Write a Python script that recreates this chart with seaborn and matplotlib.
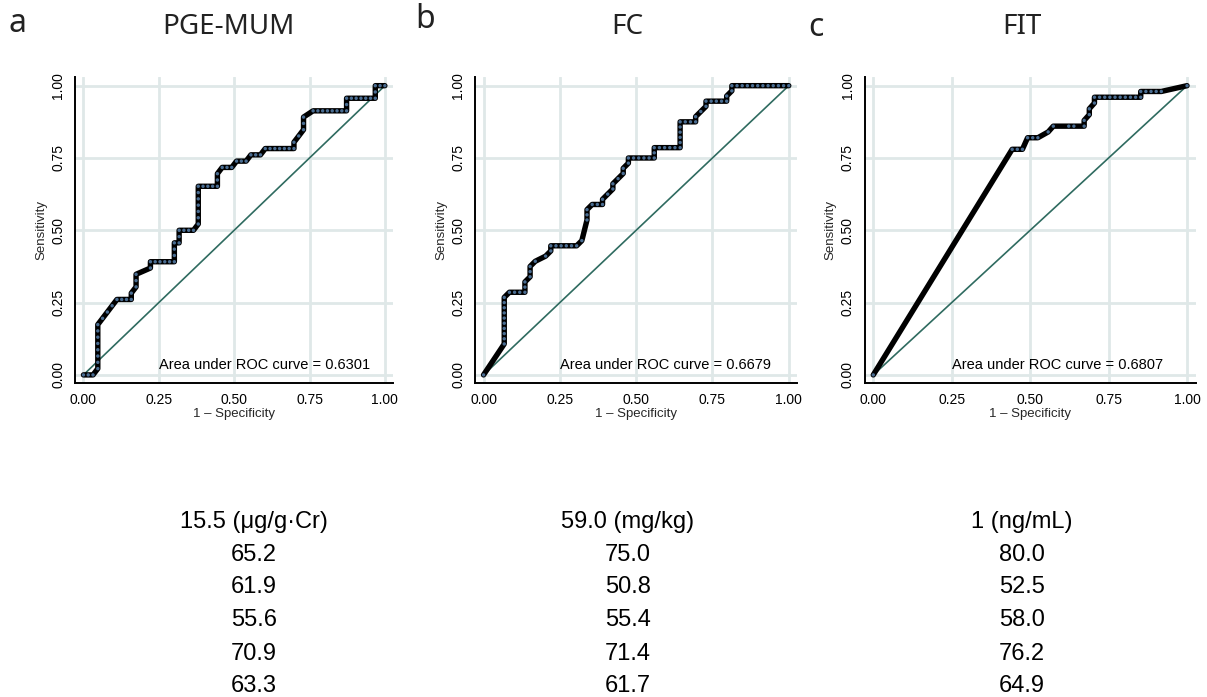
import numpy as np
import pandas as pd
import matplotlib
matplotlib.use("Agg")
import matplotlib.pyplot as plt
import seaborn as sns

# ---------------- data ----------------
panel_letters = ["a", "b", "c"]
panel_titles = ["PGE-MUM", "FC", "FIT"]
auc_values = ["0.6301", "0.6679", "0.6807"]

# ROC points as counts of false positives / true positives
n_neg_a, n_pos_a = 63, 46
fp_a = [0, 1, 2, 3, 3, 3, 3, 3, 3, 3, 3, 4, 5, 6, 7, 8, 9, 10, 10, 11, 11, 11,
        14, 14, 15, 16, 17, 18, 19, 19, 19, 19, 20, 20, 20, 21, 22, 23,
        24, 24, 24, 24, 24, 24, 24, 25, 26, 27, 28, 28, 28, 29, 30, 31,
        32, 33, 34, 35, 36, 37, 38, 39, 40, 41, 42, 43, 44, 44, 45, 46, 46, 46,
        48, 49, 50, 51, 52, 53, 54, 55, 55, 55, 56, 57, 58, 59, 60, 61, 61, 61, 62, 63]
tp_a = [0, 0, 0, 1, 2, 3, 4, 5, 6, 7, 8, 9, 10, 11, 12, 12, 12, 12, 13, 14, 15, 16,
        17, 18, 18, 18, 18, 18, 18, 19, 20, 21, 21, 22, 23, 23, 23, 23,
        24, 25, 26, 27, 28, 29, 30, 30, 30, 30, 30, 31, 32, 33, 33, 33,
        34, 34, 34, 35, 35, 35, 36, 36, 36, 36, 36, 36, 36, 37, 38, 39, 40, 41,
        42, 42, 42, 42, 42, 42, 42, 42, 43, 44, 44, 44, 44, 44, 44, 44, 45, 46, 46, 46]

n_neg_b, n_pos_b = 59, 56
fp_b = [0, 4, 4, 4, 4, 4, 4, 4, 4, 4, 4, 5, 6, 7, 8, 8, 8, 9, 9, 9, 10, 12, 13, 13,
        14, 15, 16, 17, 18, 19, 20, 20, 20, 21, 22, 23, 23, 24, 25, 25, 26, 27, 27,
        28, 28, 29, 30, 31, 32, 33, 33, 33, 34, 35, 36, 37, 38, 38, 38, 38, 38, 38,
        39, 40, 41, 41, 42, 43, 43, 44, 45, 46, 47, 47, 48, 48,
        49, 50, 51, 52, 53, 54, 55, 56, 57, 58, 59]
tp_b = [0, 6, 7, 8, 9, 10, 11, 12, 13, 14, 15, 16, 16, 16, 16, 17, 18, 19, 20, 21, 22, 23, 24, 25,
        25, 25, 25, 25, 25, 26, 30, 31, 32, 33, 33, 33, 34, 35, 36, 37, 38, 39, 40,
        41, 42, 42, 42, 42, 42, 42, 43, 44, 44, 44, 44, 44, 44, 45, 46, 47, 48, 49,
        49, 49, 49, 50, 51, 52, 53, 53, 53, 53, 53, 54, 55, 56,
        56, 56, 56, 56, 56, 56, 56, 56, 56, 56, 56]

n_neg_c, n_pos_c = 61, 50
fp_c = [0, 27, 28, 29, 30, 31, 32, 34, 35, 38, 39, 41, 41, 42, 42, 43, 43,
        44, 45, 46, 47, 48, 49, 50, 51, 52, 52, 53, 54, 55, 56, 61]
tp_c = [0, 39, 39, 39, 41, 41, 41, 42, 43, 43, 43, 43, 44, 45, 46, 47, 48,
        48, 48, 48, 48, 48, 48, 48, 48, 48, 49, 49, 49, 49, 49, 50]

ref_line = [0.0, 1.0]
tick_vals = [0.0, 0.25, 0.5, 0.75, 1.0]
tick_labels = ["0.00", "0.25", "0.50", "0.75", "1.00"]

table_a = ["15.5 (μg/g·Cr)", "65.2", "61.9", "55.6", "70.9", "63.3"]
table_b = ["59.0 (mg/kg)", "75.0", "50.8", "55.4", "71.4", "61.7"]
table_c = ["1 (ng/mL)", "80.0", "52.5", "58.0", "76.2", "64.9"]

# ---------------- figure ----------------
sns.set_style("white")
plt.rcParams["font.family"] = ["Liberation Sans", "DejaVu Sans"]

W, H = 1207, 697
fig = plt.figure(figsize=(W / 100, H / 100), dpi=100)

def px_axes(left, top, width, height):
    return fig.add_axes([left / W, 1 - (top + height) / H, width / W, height / H])

boxes = [(75, 77, 318, 306), (475, 77, 322, 306), (864.5, 77, 331, 306)]
panels = [(fp_a, tp_a, n_neg_a, n_pos_a), (fp_b, tp_b, n_neg_b, n_pos_b), (fp_c, tp_c, n_neg_c, n_pos_c)]

for box, (fp, tp, nn, npos), auc in zip(boxes, panels, auc_values):
    ax = px_axes(*box)
    df = pd.DataFrame({"fpr": np.array(fp) / nn, "tpr": np.array(tp) / npos})
    ref = pd.DataFrame({"x": ref_line, "y": ref_line})
    sns.lineplot(data=ref, x="x", y="y", color="#2f6b60", lw=1.2, ax=ax, zorder=2)
    sns.lineplot(data=df, x="fpr", y="tpr", sort=False, estimator=None, color="black",
                 lw=3.9, ax=ax, zorder=3, solid_joinstyle="round", solid_capstyle="round")
    sns.scatterplot(data=df, x="fpr", y="tpr", color="#4a6d92", s=6, edgecolor="none",
                    ax=ax, zorder=4)
    ax.set_xlim(-0.028, 1.027)
    ax.set_ylim(-0.028, 1.03)
    ax.set_xticks(tick_vals)
    ax.set_xticklabels(tick_labels)
    ax.set_yticks(tick_vals)
    ax.set_yticklabels(tick_labels, rotation=90, va="center")
    ax.grid(True, color="#dfe8e8", lw=2.0)
    ax.set_axisbelow(True)
    for s in ["top", "right"]:
        ax.spines[s].set_visible(False)
    for s in ["left", "bottom"]:
        ax.spines[s].set_color("black")
        ax.spines[s].set_linewidth(1.4)
    ax.tick_params(direction="out", length=5, width=1.1, labelsize=10, colors="black", pad=2)
    ax.set_xlabel("1 \u2012 Specificity", fontsize=9.5, labelpad=1)
    ax.set_ylabel("Sensitivity", fontsize=9.5, labelpad=3)
    ax.text(0.25, 0.035, "Area under ROC curve = " + auc, fontsize=10.5,
            ha="left", va="center", color="black")

# panel letters and titles
letter_pos = [(18, 24), (425, 20), (816, 27)]
title_x = [228, 627, 1022]
for (lx, ly), letter, tx, title in zip(letter_pos, panel_letters, title_x, panel_titles):
    fig.text(lx / W, 1 - ly / H, letter, fontsize=23, family=["Noto Sans", "DejaVu Sans"],
             ha="center", va="center", color="#222222")
    fig.text(tx / W, 1 - 27 / H, title, fontsize=20, family=["Noto Sans", "DejaVu Sans"],
             ha="center", va="center", color="#222222")

# table below
col_x = [254, 628, 1022]
row_y = [522, 555, 587, 620, 654, 686]
for cx, col in zip(col_x, [table_a, table_b, table_c]):
    for ry, txt in zip(row_y, col):
        fig.text(cx / W, 1 - ry / H, txt, fontsize=17,
                 family=["Liberation Sans", "DejaVu Sans"], ha="center", va="center",
                 color="black")

fig.savefig("out.png", dpi=100)
